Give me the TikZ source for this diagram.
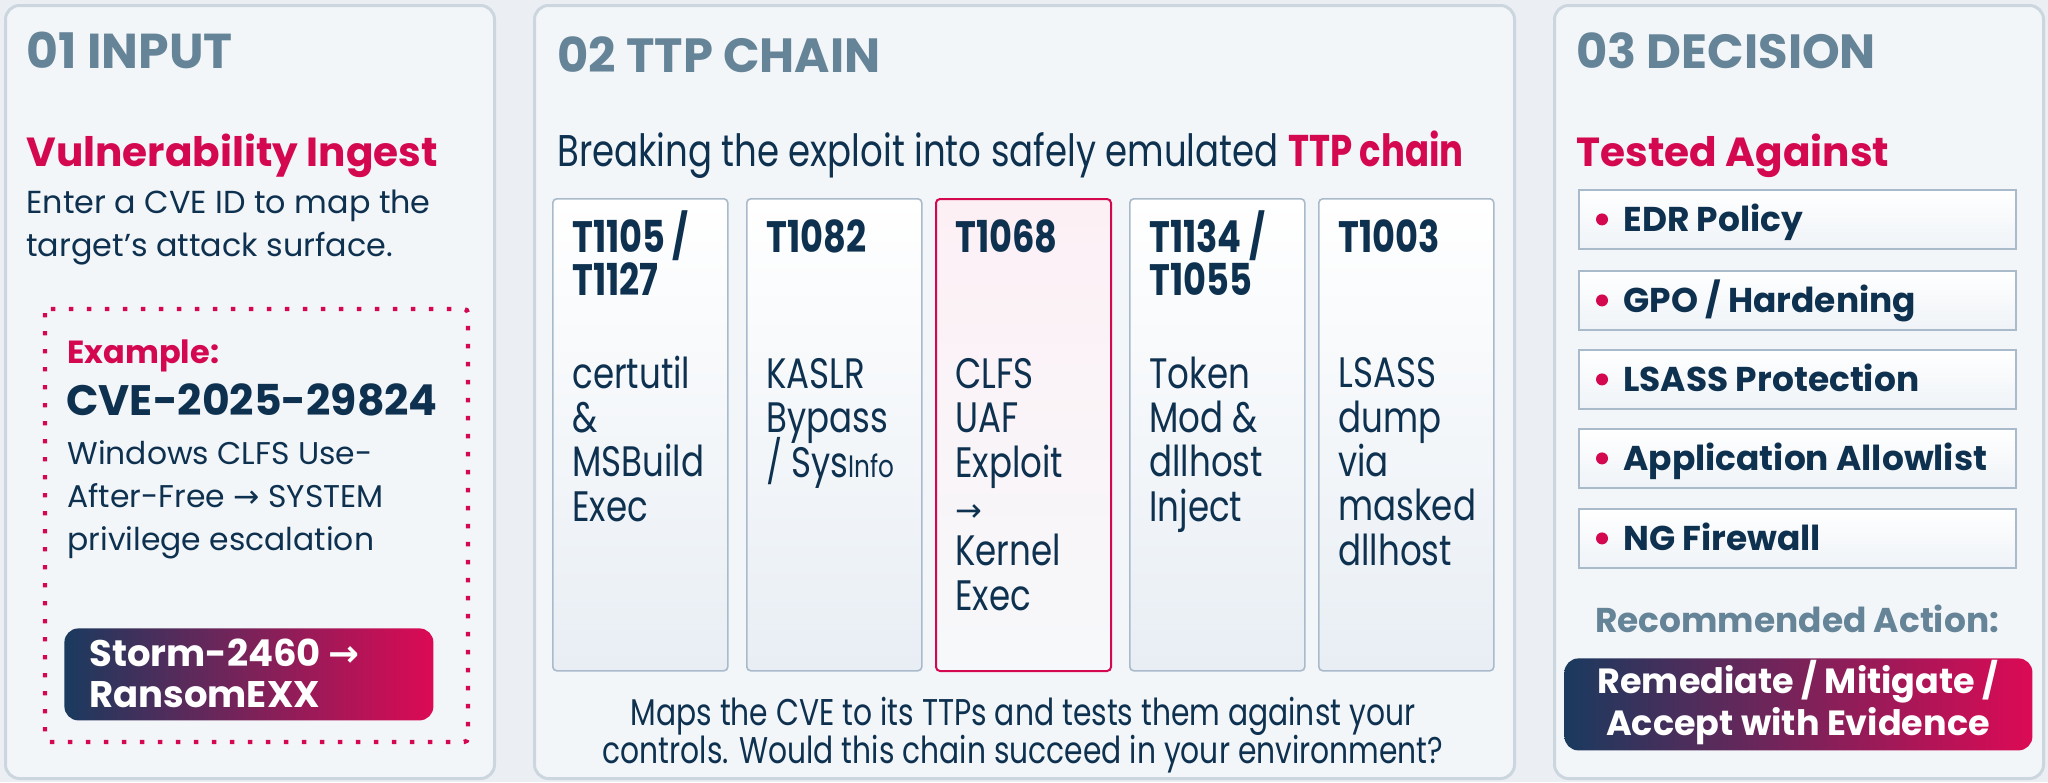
\documentclass[tikz,border=0pt]{standalone}
\usepackage{fontspec}
\setmainfont{Poppins}
\newfontfamily\condfont[FakeStretch=0.8]{Poppins}
\newcommand\nolsk{\lineskiplimit=-100pt\relax}
\definecolor{navy}{HTML}{0E3150}
\definecolor{mag}{HTML}{D4084F}
\definecolor{ttl}{HTML}{668498}
\definecolor{pborder}{HTML}{CCD6DF}
\definecolor{pfill}{HTML}{F3F6F9}
\definecolor{cborder}{HTML}{A9BACB}
\definecolor{bgc}{HTML}{EBEFF3}
\definecolor{gradL}{HTML}{1A3A5E}
\definecolor{gradR}{HTML}{DC0A55}
\definecolor{cardbot}{HTML}{E8EEF4}
\definecolor{pinkglow}{HTML}{FDF0F5}
\tikzset{
  x=0.5pt, y=-0.5pt,
  panel/.style={draw=pborder, line width=1.5pt, rounded corners=7pt, fill=pfill, anchor=north west, inner sep=0pt},
  card/.style={draw=cborder, line width=0.8pt, rounded corners=2pt, top color=white, bottom color=cardbot, anchor=north west, inner sep=0pt, minimum width=87.5pt, minimum height=236pt},
  hotcard/.style={card, draw=mag, line width=1pt, top color=pinkglow, bottom color=cardbot!40!white},
  itembox/.style={draw=cborder, line width=0.9pt, top color=white, bottom color=cardbot!70!white, anchor=north west, inner sep=0pt, minimum width=218.5pt, minimum height=29.5pt},
  gradbtn/.style={left color=gradL, right color=gradR, rounded corners=7pt, anchor=north west, inner sep=0pt},
  ptitle/.style={anchor=base west, inner sep=0pt, text=ttl, font=\fontsize{24.5}{28}\selectfont\bfseries},
  sub/.style={anchor=base west, inner sep=0pt, text=mag, font=\fontsize{20.3}{24}\selectfont\bfseries},
  body/.style={anchor=base west, inner sep=0pt, text=navy, align=left, font=\fontsize{15.9}{21.5}\selectfont\nolsk},
  chead/.style={anchor=base west, inner sep=0pt, text=navy, align=left, font=\condfont\fontsize{22}{21.5}\selectfont\bfseries\nolsk},
  cbody/.style={anchor=base west, inner sep=0pt, text=navy, align=left, font=\condfont\fontsize{21.3}{22.15}\selectfont\nolsk},
  item/.style={anchor=base west, inner sep=0pt, text=navy, font=\fontsize{17.2}{20}\selectfont\bfseries},
  dot/.style={circle, fill=mag, inner sep=0pt, minimum size=6pt},
  btntext/.style={inner sep=0pt, text=white, font=\fontsize{17.5}{21}\selectfont\bfseries\nolsk}
}
\begin{document}
\begin{tikzpicture}
\fill[bgc] (0,0) rectangle (2048,782);
\useasboundingbox (0,0) rectangle (2048,782);
% panels
\node[panel, minimum width=244.5pt, minimum height=386.5pt] (p1) at (4,4) {};
\node[panel, minimum width=490pt, minimum height=386.5pt] (p2) at (533,4) {};
\node[panel, minimum width=244.5pt, minimum height=386.5pt] (p3) at (1553,4) {};

% ---------- panel 1  (multi-line nodes are placed by their last baseline)
\node[ptitle] (t1) at (26,68) {01 INPUT};
\node[sub] (s1) at (26,166) {Vulnerability Ingest};
\node[body] (b1) at (26,256) {Enter a CVE ID to map the\\target's attack surface.};
\draw[mag, line width=2.2pt, dash pattern=on 2.2pt off 6.8pt, rounded corners=2pt] (45,309) rectangle (468,742);
\node[anchor=base west, inner sep=0pt, text=mag, font=\fontsize{16}{20}\selectfont\bfseries] (ex) at (67,363) {Example:};
\node[anchor=base west, inner sep=0pt, text=navy, font=\fontsize{21.3}{26}\selectfont\bfseries] (cve) at (66,415) {CVE-2025-29824};
\node[body, font=\fontsize{15.7}{21.5}\selectfont\nolsk] (exd) at (67,550) {Windows CLFS Use-\\After-Free {\fontspec{DejaVu Sans}→} SYSTEM\\privilege escalation};
\node[gradbtn, minimum width=184.5pt, minimum height=46pt] (btn1) at (64,628) {};
\node[btntext, anchor=base west, align=left, font=\fontsize{18.5}{20.5}\selectfont\bfseries\nolsk] (btn1t) at (89,707) {Storm-2460 {\fontspec{DejaVu Sans}→}\\RansomEXX};

% ---------- panel 2
\node[ptitle, font=\fontsize{24}{28}\selectfont\bfseries] (t2) at (557,72) {02 TTP CHAIN};
\node[anchor=base west, inner sep=0pt, text=navy, font=\condfont\fontsize{22.2}{25}\selectfont] (lead) at (557,166) {Breaking the exploit into safely emulated \textcolor{mag}{\bfseries TTP chain}};

\node[card] (c1) at (552,198) {};
\node[card] (c2) at (746,198) {};
\node[hotcard] (c3) at (935,198) {};
\node[card] (c4) at (1129,198) {};
\node[card] (c5) at (1318,198) {};

\node[chead] (h1) at ([xshift=10pt]c1.north west |- 0,295) {T1105 /\\T1127};
\node[chead] (h2) at ([xshift=10pt]c2.north west |- 0,252) {T1082};
\node[chead] (h3) at ([xshift=10pt]c3.north west |- 0,252) {T1068};
\node[chead] (h4) at ([xshift=10pt]c4.north west |- 0,295) {T1134 /\\T1055};
\node[chead] (h5) at ([xshift=10pt]c5.north west |- 0,252) {T1003};

\node[cbody] (d1) at ([xshift=10pt]c1.north west |- 0,521) {certutil\\\&\\MSBuild\\Exec};
\node[cbody] (d2) at ([xshift=10pt]c2.north west |- 0,477) {KASLR\\Bypass\\/ Sys{\fontsize{15.5}{16}\selectfont Info}};
\node[cbody] (d3) at ([xshift=10pt]c3.north west |- 0,610) {CLFS\\UAF\\Exploit\\{\fontspec{DejaVu Sans}\fontsize{16}{16}\selectfont →}\\Kernel\\Exec};
\node[cbody] (d4) at ([xshift=10pt]c4.north west |- 0,521) {Token\\Mod \&\\dllhost\\Inject};
\node[cbody] (d5) at ([xshift=10pt]c5.north west |- 0,565) {LSASS\\dump\\via\\masked\\dllhost};

\node[anchor=base, inner sep=0pt, text=navy, align=center, font=\condfont\fontsize{18.6}{19}\selectfont\nolsk] (foot) at (1023,763) {Maps the CVE to its TTPs and tests them against your\\controls. Would this chain succeed in your environment?};

% ---------- panel 3
\node[ptitle, font=\fontsize{24}{28}\selectfont\bfseries] (t3) at (1576,68) {03 DECISION};
\node[sub] (s3) at (1576,166) {Tested Against};
\foreach \n/\y/\txt in {1/189/{EDR Policy}, 2/270/{GPO / Hardening}, 3/349/{LSASS Protection}, 4/428/{Application Allowlist}, 5/508/{NG Firewall}}{
  \node[itembox] (ib\n) at (1578,\y) {};
  \node[dot] (id\n) at ([xshift=12pt]ib\n.west) {};
  \node[item] (it\n) at ([xshift=22.5pt, yshift=-6pt]ib\n.west) {\txt};
}
\node[anchor=base, inner sep=0pt, text=ttl, font=\fontsize{17.2}{20}\selectfont\bfseries] (rec) at (1797,632) {Recommended Action:};
\node[gradbtn, minimum width=234pt, minimum height=46pt] (btn3) at (1564,658) {};
\node[btntext, align=center, anchor=base] (btn3t) at (1798,735) {Remediate / Mitigate /\\Accept with Evidence};
\end{tikzpicture}
\end{document}
